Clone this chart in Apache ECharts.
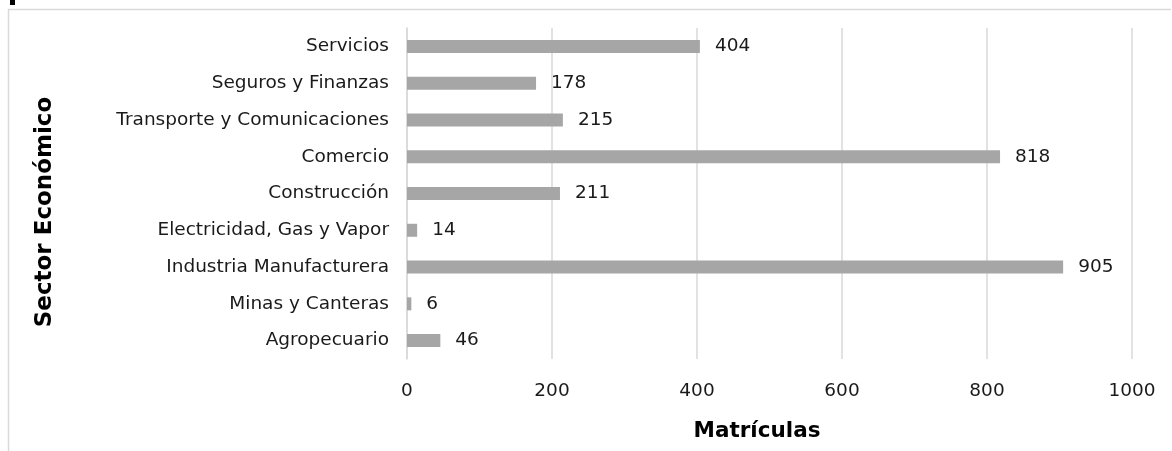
<!DOCTYPE html>
<html><head><meta charset="utf-8">
<script src="https://cdn.jsdelivr.net/npm/echarts@6/dist/echarts.min.js"></script>
<style>html,body{margin:0;padding:0;background:#fff}#c{width:1172px;height:451px}</style>
</head><body><div id="c"></div>
<script>
const categories = ["Agropecuario","Minas y Canteras","Industria Manufacturera","Electricidad, Gas y Vapor","Construcción","Comercio","Transporte y Comunicaciones","Seguros y Finanzas","Servicios"];
const values = [46, 6, 905, 14, 211, 818, 215, 178, 404];
const xTicks = [0, 200, 400, 600, 800, 1000];
const xTitle = "Matrículas";
const yTitle = "Sector Económico";

const chart = echarts.init(document.getElementById('c'), null, {renderer:'canvas'});
const FONT = "DejaVu Sans";
chart.setOption({
  animation:false,
  backgroundColor:'#fff',
  grid:{left:407, right:40, top:28, bottom:92, containLabel:false},
  xAxis:{type:'value', min:xTicks[0], max:xTicks[xTicks.length-1], interval:200,
    axisLine:{show:false}, axisTick:{show:false},
    splitLine:{show:true, lineStyle:{color:'#d9d9d9', width:1.5}},
    axisLabel:{color:'#1a1a1a', fontFamily:FONT, fontSize:18.5, margin:23, formatter:v=>String(v)}},
  yAxis:{type:'category', data:categories,
    axisLine:{show:true, lineStyle:{color:'#d9d9d9', width:1.5}}, axisTick:{show:false},
    axisLabel:{color:'#1a1a1a', fontFamily:FONT, fontSize:18.5, margin:18}},
  series:[{type:'bar', data:values, barWidth:13,
    itemStyle:{color:'#a6a6a6'},
    label:{show:true, position:'right', distance:15, color:'#1a1a1a', fontFamily:FONT, fontSize:18.5}}],
  graphic:[
    {type:'line', shape:{x1:8, y1:9.5, x2:1171, y2:9.5}, style:{stroke:'#d9d9d9', lineWidth:1.5}, silent:true},
    {type:'line', shape:{x1:8.5, y1:9, x2:8.5, y2:451}, style:{stroke:'#d9d9d9', lineWidth:1.5}, silent:true},
    {type:'rect', shape:{x:10, y:0, width:5, height:5}, style:{fill:'#000'}, silent:true},
    {type:'text', x:757, y:431, silent:true,
      style:{text:xTitle, align:'center', verticalAlign:'middle', fill:'#000', font:'bold 21.5px "DejaVu Sans"'}},
    {type:'text', x:45, y:212, rotation:Math.PI/2, silent:true,
      style:{text:yTitle, align:'center', verticalAlign:'middle', fill:'#000', font:'bold 23px "DejaVu Sans"'}}
  ]
});
</script></body></html>
